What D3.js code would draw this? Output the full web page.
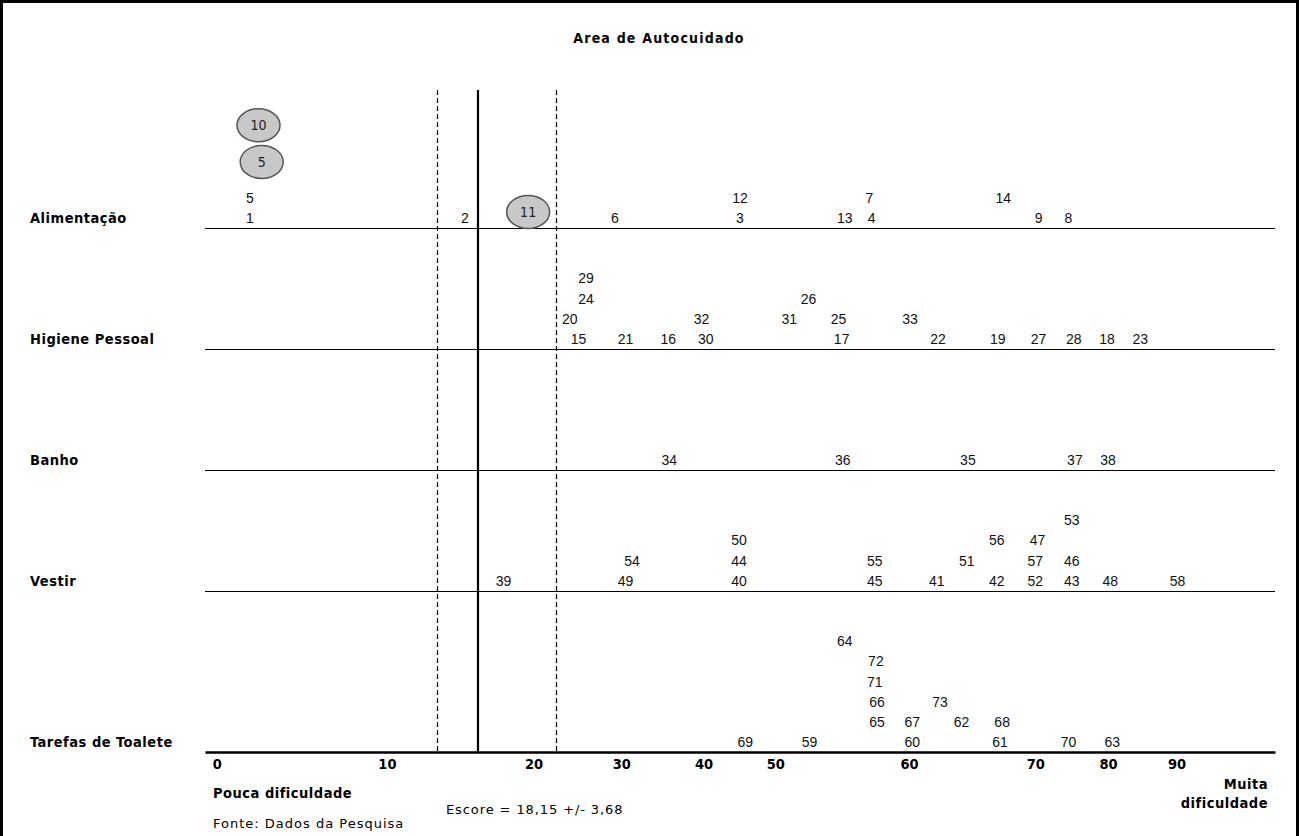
<!DOCTYPE html>
<html>
<head>
<meta charset="utf-8">
<script src="https://cdn.jsdelivr.net/npm/d3@7"></script>
<style>
  html, body { margin: 0; padding: 0; background: #fff; }
  svg { display: block; }
</style>
</head>
<body>
<svg id="chart" width="1299" height="836"></svg>
<script>
// ---------------- DATA ----------------
const title = "Area de Autocuidado";
const categories = ["Alimentação", "Higiene Pessoal", "Banho", "Vestir", "Tarefas de Toalete"];

// tick labels of the horizontal (difficulty) axis and where they sit on the 0–100 axis span
const tickLabels = ["0", "10", "20", "30", "40", "50", "60", "70", "80", "90"];
const tickPositions = [1.1, 17.0, 30.7, 38.9, 46.6, 53.3, 65.8, 77.6, 84.4, 90.8];

// items: [label, position on axis span, stack level]
const itemsAlimentacao = [
  ["1", 4.2, 0], ["5", 4.2, 1], ["2", 24.3, 0], ["6", 38.3, 0],
  ["3", 50.0, 0], ["12", 50.0, 1], ["13", 59.8, 0], ["4", 62.3, 0], ["7", 62.1, 1],
  ["14", 74.6, 1], ["9", 77.9, 0], ["8", 80.7, 0]
];
const itemsHigiene = [
  ["15", 34.9, 0], ["20", 34.1, 1], ["24", 35.6, 2], ["29", 35.6, 3],
  ["21", 39.3, 0], ["16", 43.3, 0], ["30", 46.8, 0], ["32", 46.4, 1],
  ["31", 54.6, 1], ["26", 56.4, 2], ["17", 59.5, 0], ["25", 59.2, 1],
  ["33", 65.9, 1], ["22", 68.5, 0], ["19", 74.1, 0], ["27", 77.9, 0],
  ["28", 81.2, 0], ["18", 84.3, 0], ["23", 87.4, 0]
];
const itemsBanho = [
  ["34", 43.4, 0], ["36", 59.6, 0], ["35", 71.3, 0], ["37", 81.3, 0], ["38", 84.4, 0]
];
const itemsVestir = [
  ["39", 27.9, 0], ["49", 39.3, 0], ["54", 39.9, 1],
  ["40", 49.9, 0], ["44", 49.9, 1], ["50", 49.9, 2],
  ["45", 62.6, 0], ["55", 62.6, 1], ["41", 68.4, 0], ["51", 71.2, 1],
  ["42", 74.0, 0], ["56", 74.0, 2], ["52", 77.6, 0], ["57", 77.6, 1], ["47", 77.8, 2],
  ["43", 81.0, 0], ["46", 81.0, 1], ["53", 81.0, 3], ["48", 84.6, 0], ["58", 90.9, 0]
];
const itemsTarefas = [
  ["69", 50.5, 0], ["59", 56.5, 0], ["64", 59.8, 5],
  ["65", 62.8, 1], ["66", 62.8, 2], ["71", 62.6, 3], ["72", 62.7, 4],
  ["60", 66.1, 0], ["67", 66.1, 1], ["73", 68.7, 2], ["62", 70.7, 1],
  ["61", 74.3, 0], ["68", 74.5, 1], ["70", 80.7, 0], ["63", 84.8, 0]
];
const itemsByCategory = [itemsAlimentacao, itemsHigiene, itemsBanho, itemsVestir, itemsTarefas];

// highlighted (circled) items in Alimentação: [label, position, level]
const circledItems = [["10", 5.0, 4.6], ["5", 5.3, 2.78], ["11", 30.2, 0.3]];

// reference lines: score and its interval (positions on the axis span)
const scoreText = "Escore = 18,15 +/- 3,68";
const refLineMean = 25.5;
const refLinesInterval = [21.7, 32.8];

const lowLabel = "Pouca dificuldade";
const highLabel = ["Muita", "dificuldade"];
const sourceText = "Fonte: Dados da Pesquisa";

// ---------------- LAYOUT ----------------
const W = 1299, H = 836;
const svg = d3.select("#chart");

// lines of text per category band (bottom band is taller)
const rowLines = [6, 6, 6, 6, 8];
const rowBase = rowLines.map((_, i) => d3.sum(rowLines.slice(i + 1)));

const x = d3.scaleLinear().domain([0, 100]).range([205, 1275]);
const y = d3.scaleLinear().domain([0, 32.85]).range([752, 90]);

const numFont = "'Liberation Sans', Arial, sans-serif";
const boldFont = "'DejaVu Sans Condensed', 'DejaVu Sans', sans-serif";
const textFont = "'DejaVu Sans', Verdana, sans-serif";

// frame
svg.append("rect")
  .attr("x", 1.5).attr("y", 1.5).attr("width", W - 3).attr("height", H + 10)
  .attr("fill", "none").attr("stroke", "#000").attr("stroke-width", 3);

// title
svg.append("text")
  .attr("x", 659).attr("y", 43)
  .attr("text-anchor", "middle")
  .attr("font-family", boldFont).attr("font-weight", "bold")
  .attr("font-size", 14).attr("letter-spacing", "1.2px")
  .attr("fill", "#000")
  .text(title);

// category separator lines
svg.append("g").selectAll("line")
  .data(rowBase.filter(b => b > 0))
  .join("line")
  .attr("x1", x(0)).attr("x2", x(100))
  .attr("y1", d => Math.round(y(d)) + 0.5).attr("y2", d => Math.round(y(d)) + 0.5)
  .attr("stroke", "#000").attr("stroke-width", 1.2);

// vertical reference lines
svg.append("g").selectAll("line")
  .data(refLinesInterval)
  .join("line")
  .attr("x1", d => Math.round(x(d)) + 0.5).attr("x2", d => Math.round(x(d)) + 0.5)
  .attr("y1", y(32.85)).attr("y2", y(0))
  .attr("stroke", "#000").attr("stroke-width", 1.2)
  .attr("stroke-dasharray", "5,3");

svg.append("line")
  .attr("x1", Math.round(x(refLineMean))).attr("x2", Math.round(x(refLineMean)))
  .attr("y1", y(32.85)).attr("y2", y(0))
  .attr("stroke", "#000").attr("stroke-width", 2.2);

// category labels
svg.append("g").selectAll("text")
  .data(categories)
  .join("text")
  .attr("x", 30)
  .attr("y", (d, i) => y(rowBase[i] + 0.5))
  .attr("dy", "0.36em")
  .attr("font-family", boldFont).attr("font-weight", "bold")
  .attr("font-size", 14.5).attr("letter-spacing", "0.5px")
  .attr("fill", "#000")
  .text(d => d);

// item numbers
const flat = [];
itemsByCategory.forEach((arr, ci) => arr.forEach(([label, pos, lvl]) => flat.push({ label, pos, lvl, ci })));

svg.append("g").selectAll("text")
  .data(flat)
  .join("text")
  .attr("x", d => x(d.pos))
  .attr("y", d => y(rowBase[d.ci] + 0.5 + d.lvl))
  .attr("dy", "0.36em")
  .attr("text-anchor", "middle")
  .attr("font-family", numFont).attr("font-size", 14)
  .attr("fill", "#111")
  .text(d => d.label);

// circled items
const cg = svg.append("g").selectAll("g")
  .data(circledItems)
  .join("g")
  .attr("transform", d => `translate(${x(d[1])},${y(rowBase[0] + 0.5 + d[2])})`);
cg.append("ellipse")
  .attr("rx", 21.5).attr("ry", 16.5)
  .attr("fill", "#c8c8c8").attr("stroke", "#555").attr("stroke-width", 1.5);
cg.append("text")
  .attr("text-anchor", "middle").attr("dy", "0.36em")
  .attr("font-family", boldFont).attr("font-size", 14)
  .attr("fill", "#222")
  .text(d => d[0]);

// bottom axis
const axis = d3.axisBottom(x)
  .tickValues(tickPositions)
  .tickFormat((d, i) => tickLabels[i])
  .tickSize(0)
  .tickPadding(7);
const ag = svg.append("g").attr("transform", `translate(0,${y(0)})`).call(axis);
ag.select(".domain").attr("stroke", "#000").attr("stroke-width", 2.5);
ag.selectAll("text")
  .attr("font-family", boldFont)
  .attr("font-weight", "bold").attr("font-size", 14.5).attr("fill", "#000");

// bottom texts
svg.append("text")
  .attr("x", 213).attr("y", 798)
  .attr("font-family", boldFont).attr("font-weight", "bold")
  .attr("font-size", 14.5).attr("letter-spacing", "0.5px").attr("fill", "#000")
  .text(lowLabel);

svg.append("text")
  .attr("x", 446).attr("y", 814)
  .attr("font-family", textFont).attr("font-size", 13)
  .attr("letter-spacing", "0.9px").attr("fill", "#000")
  .text(scoreText);

svg.append("text")
  .attr("x", 213).attr("y", 828)
  .attr("font-family", textFont).attr("font-size", 13)
  .attr("letter-spacing", "1px").attr("fill", "#000")
  .text(sourceText);

svg.append("g").selectAll("text")
  .data(highLabel)
  .join("text")
  .attr("x", 1268).attr("y", (d, i) => 789 + i * 19)
  .attr("text-anchor", "end")
  .attr("font-family", boldFont).attr("font-weight", "bold")
  .attr("font-size", 14.5).attr("letter-spacing", "0.5px").attr("fill", "#000")
  .text(d => d);
</script>
</body>
</html>
